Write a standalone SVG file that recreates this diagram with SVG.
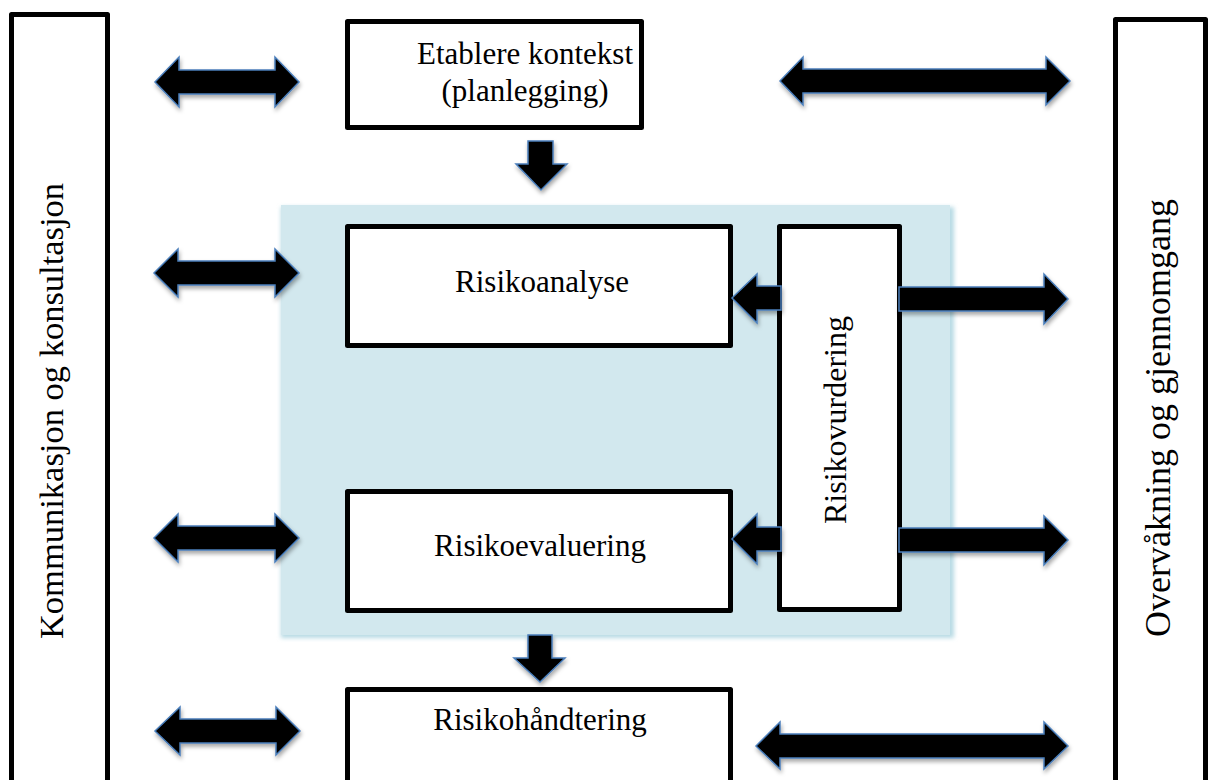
<svg xmlns="http://www.w3.org/2000/svg" width="1212" height="780" viewBox="0 0 1212 780">
<defs>
<filter id="sh" x="-20%" y="-40%" width="140%" height="180%">
<feDropShadow dx="1" dy="3" stdDeviation="2" flood-color="#000" flood-opacity="0.35"/>
</filter>
<filter id="glow" x="-5%" y="-5%" width="110%" height="110%">
<feGaussianBlur stdDeviation="2"/>
</filter>
<style>
.box{fill:#fff;stroke:#000;stroke-width:5;stroke-linejoin:round}
.arr{fill:#000;stroke:#4a7ebb;stroke-width:1.5;stroke-linejoin:miter;filter:url(#sh)}
.t{font-family:"Liberation Serif","Times New Roman",serif;font-size:31px;fill:#000;text-anchor:middle}
</style>
</defs>
<rect width="1212" height="780" fill="#fff"/>
<g id="bg-area">
<rect x="281" y="207" width="673" height="431" fill="#b7dae4" filter="url(#glow)"/>
<rect x="281" y="205" width="669" height="430" fill="#d2e8ee"/>
</g>
<g id="kommunikasjon">
<rect class="box" x="11.5" y="14.5" width="96" height="800"/>
<text class="t" style="font-size:34.5px" transform="translate(63,411) rotate(-90)">Kommunikasjon og konsultasjon</text>
</g>
<g id="overvakning">
<rect class="box" x="1115.5" y="19.5" width="90" height="800"/>
<text class="t" style="font-size:36px" transform="translate(1170,418) rotate(-90)">Overvåkning og gjennomgang</text>
</g>
<g id="etablere">
<rect class="box" x="347.5" y="21.5" width="294" height="106"/>
<text class="t" x="525" y="64">Etablere kontekst</text>
<text class="t" x="525" y="101">(planlegging)</text>
</g>
<g id="risikoanalyse">
<rect class="box" x="347.5" y="226.5" width="383" height="119"/>
<text class="t" x="542" y="292">Risikoanalyse</text>
</g>
<g id="risikoevaluering">
<rect class="box" x="347.5" y="491.5" width="383" height="119"/>
<text class="t" x="540" y="556">Risikoevaluering</text>
</g>
<g id="risikohandtering">
<rect class="box" x="347.5" y="689.5" width="383" height="200"/>
<text class="t" x="540" y="730">Risikohåndtering</text>
</g>
<g id="risikovurdering">
<rect class="box" x="779.5" y="226.5" width="120" height="383"/>
<text class="t" style="font-size:32px" transform="translate(846,420) rotate(-90)">Risikovurdering</text>
</g>
<g id="connectors">
<polygon class="arr" points="155,82 179,57 179,70 275,70 275,57 299,82 275,107 275,94 179,94 179,107"/>
<polygon class="arr" points="780,81 803,57 803,69 1046,69 1046,57 1070,81 1046,105 1046,93 803,93 803,105"/>
<polygon class="arr" points="154,273 178,249 178,261 275,261 275,249 299,273 275,297 275,285 178,285 178,297"/>
<polygon class="arr" points="154,538 178,514 178,526 275,526 275,514 299,538 275,562 275,550 178,550 178,562"/>
<polygon class="arr" points="155,731 180,707 180,719 276,719 276,707 300,731 276,755 276,743 180,743 180,755"/>
<polygon class="arr" points="756,746 780,722 780,734 1044,734 1044,722 1068,746 1044,769 1044,758 780,758 780,769"/>
<polygon class="arr" points="732,298 757,274 757,286 781,286 781,310 757,310 757,323"/>
<polygon class="arr" points="899,287 1044,287 1044,274 1068,299 1044,324 1044,311 899,311"/>
<polygon class="arr" points="732,539 757,514 757,527 781,527 781,551 757,551 757,564"/>
<polygon class="arr" points="899,528 1044,528 1044,516 1068,540 1044,565 1044,552 899,552"/>
<polygon class="arr" points="528,141 553,141 553,164 567,164 541,190 516,164 528,164"/>
<polygon class="arr" points="528,635 552,635 552,658 565,658 540,682 514,658 528,658"/>
</g>
</svg>
